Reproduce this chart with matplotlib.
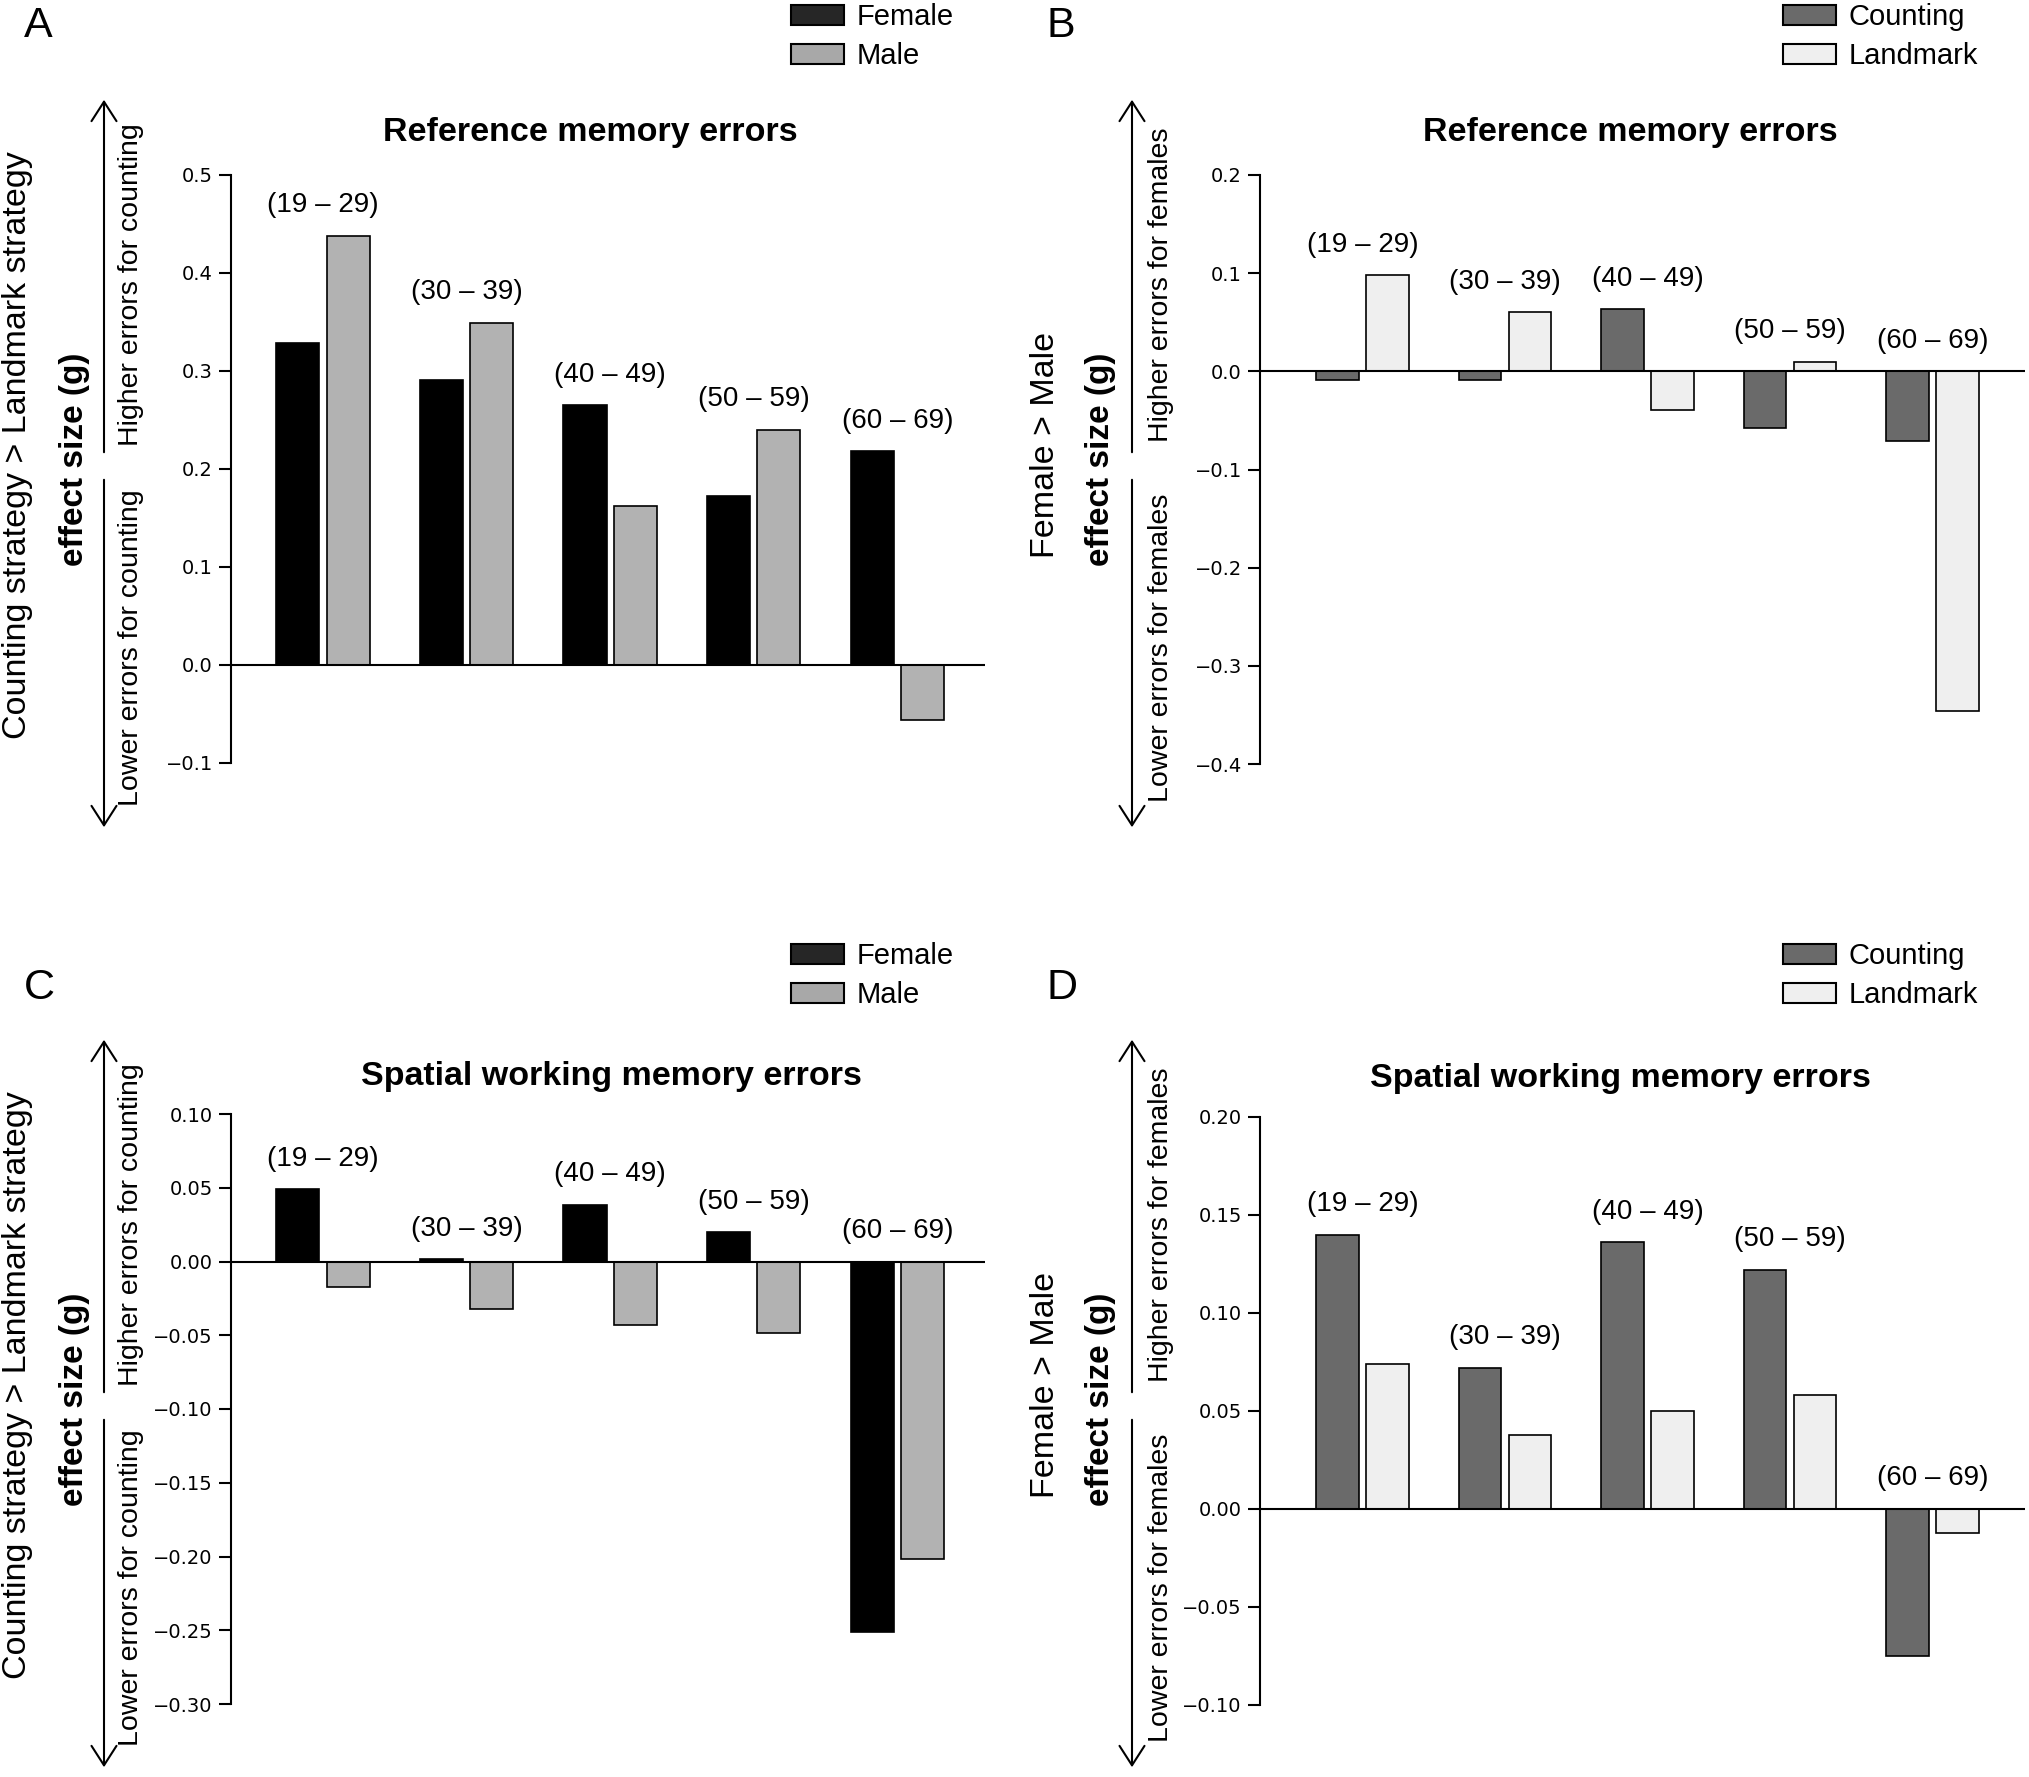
import numpy as np
import matplotlib.pyplot as plt
from matplotlib.patches import Patch, FancyArrowPatch

# age groups and effect sizes (g)
ages = ["(19 – 29)", "(30 – 39)", "(40 – 49)", "(50 – 59)", "(60 – 69)"]

ref_female = [0.329, 0.291, 0.265, 0.172, 0.218]
ref_male = [0.438, 0.349, 0.162, 0.240, -0.056]
ref_counting = [-0.009, -0.009, 0.063, -0.058, -0.071]
ref_landmark = [0.098, 0.060, -0.039, 0.010, -0.346]

swm_female = [0.049, 0.0015, 0.0386, 0.0197, -0.251]
swm_male = [-0.017, -0.032, -0.043, -0.0485, -0.202]
swm_counting = [0.140, 0.072, 0.136, 0.122, -0.075]
swm_landmark = [0.074, 0.038, 0.050, 0.058, -0.012]

ticks_a = [-0.1, 0.0, 0.1, 0.2, 0.3, 0.4, 0.5]
ticks_b = [-0.4, -0.3, -0.2, -0.1, 0.0, 0.1, 0.2]
ticks_c = [-0.30, -0.25, -0.20, -0.15, -0.10, -0.05, 0.00, 0.05, 0.10]
ticks_d = [-0.10, -0.05, 0.00, 0.05, 0.10, 0.15, 0.20]

W, H = 2029, 1777
plt.rcParams["font.family"] = "Liberation Sans"

fig = plt.figure(figsize=(W / 100, H / 100), dpi=100)


def px(x, y):
    return x / W, 1 - y / H


def make_axes(left, top, right, bottom):
    return fig.add_axes([left / W, 1 - bottom / H, (right - left) / W, (bottom - top) / H])


def draw_panel(ax, first, second, colors, ticks, fmt, xlim):
    x = np.arange(len(ages))
    width = 0.30
    off = 0.175
    ax.bar(x - off, first, width, color=colors[0], edgecolor="black", linewidth=1.2, zorder=2)
    ax.bar(x + off, second, width, color=colors[1], edgecolor="black", linewidth=1.2, zorder=2)
    ax.axhline(0, color="black", linewidth=1.5, zorder=3)
    ax.set_xlim(*xlim)
    ax.set_ylim(ticks[0], ticks[-1])
    ax.set_yticks(ticks)
    ax.set_yticklabels([fmt % t if t >= 0 else "\u2212" + fmt % abs(t) for t in ticks],
                       fontfamily="DejaVu Sans", fontsize=14)
    ax.set_xticks([])
    for s in ["top", "right", "bottom"]:
        ax.spines[s].set_visible(False)
    ax.spines["left"].set_linewidth(1.5)
    ax.tick_params(axis="y", length=9, width=1.5, pad=4)
    for i, lab in enumerate(ages):
        top = max(0, first[i], second[i])
        ax.annotate(lab, (x[i], top), xytext=(0, 22), textcoords="offset points",
                    ha="center", va="center", fontsize=20)


def side_labels(y0, xs, main, sub_hi, sub_lo):
    # centres of main label, bold label, arrow, small labels
    x_main, x_bold, x_arr, x_small = xs
    fig.text(*px(x_main, y0 + 445), main, rotation=90, ha="center", va="center", fontsize=24.5)
    fig.text(*px(x_bold, y0 + 459), "effect size (g)", rotation=90, ha="center", va="center",
             fontsize=24, fontweight="bold")
    arrow = dict(arrowstyle="->,head_length=0.7,head_width=0.45", color="black", lw=1.5,
                 mutation_scale=20, transform=fig.transFigure)
    fig.add_artist(FancyArrowPatch(px(x_arr, y0 + 455), px(x_arr, y0 + 97), **arrow))
    fig.add_artist(FancyArrowPatch(px(x_arr, y0 + 477), px(x_arr, y0 + 830), **arrow))
    fig.text(*px(x_small, y0 + 285), sub_hi, rotation=90, ha="center", va="center", fontsize=20.5)
    fig.text(*px(x_small, y0 + 648), sub_lo, rotation=90, ha="center", va="center", fontsize=20.5)


def legend(x, y, labels, colors):
    handles = [Patch(facecolor=c, edgecolor="black", linewidth=1.5) for c in colors]
    fig.legend(handles, labels, loc="upper left", bbox_to_anchor=px(x, y), frameon=False,
               fontsize=21, handlelength=1.8, handleheight=0.68, handletextpad=0.45,
               labelspacing=0.38, borderpad=0, borderaxespad=0)


sex_colors = ["#000000", "#b2b2b2"]
strat_colors = ["#6a6a6a", "#efefef"]
legend_sex = ["#262626", "#a8a8a8"]

ax_a = make_axes(231, 175, 985, 763)
draw_panel(ax_a, ref_female, ref_male, sex_colors, ticks_a, "%.1f", (-0.64, 4.61))
ax_b = make_axes(1260, 175, 2025, 764)
draw_panel(ax_b, ref_counting, ref_landmark, strat_colors, ticks_b, "%.1f", (-0.72, 4.65))
ax_c = make_axes(231, 1114, 985, 1704)
draw_panel(ax_c, swm_female, swm_male, sex_colors, ticks_c, "%.2f", (-0.64, 4.61))
ax_d = make_axes(1260, 1117, 2025, 1705)
draw_panel(ax_d, swm_counting, swm_landmark, strat_colors, ticks_d, "%.2f", (-0.72, 4.65))

fig.text(*px(590, 133), "Reference memory errors", ha="center", va="center", fontsize=24.5, fontweight="bold")
fig.text(*px(1630, 133), "Reference memory errors", ha="center", va="center", fontsize=24.5, fontweight="bold")
fig.text(*px(611, 1077), "Spatial working memory errors", ha="center", va="center", fontsize=24.5, fontweight="bold")
fig.text(*px(1620, 1078), "Spatial working memory errors", ha="center", va="center", fontsize=24.5, fontweight="bold")

side_labels(0, (18, 75, 104, 131), "Counting strategy > Landmark strategy",
            "Higher errors for counting", "Lower errors for counting")
side_labels(0, (1046, 1101, 1132, 1161), "Female > Male",
            "Higher errors for females", "Lower errors for females")
side_labels(940, (18, 75, 104, 131), "Counting strategy > Landmark strategy",
            "Higher errors for counting", "Lower errors for counting")
side_labels(940, (1046, 1101, 1132, 1161), "Female > Male",
            "Higher errors for females", "Lower errors for females")

legend(791, 3, ["Female", "Male"], legend_sex)
legend(1783, 3, ["Counting", "Landmark"], strat_colors)
legend(791, 942, ["Female", "Male"], legend_sex)
legend(1783, 942, ["Counting", "Landmark"], strat_colors)

for letter, (lx, ly) in zip("ABCD", [(24, 6), (1046, 6), (24, 968), (1046, 968)]):
    fig.text(*px(lx, ly), letter, ha="left", va="top", fontsize=31)

fig.savefig("out.png", dpi=100, facecolor="white")
